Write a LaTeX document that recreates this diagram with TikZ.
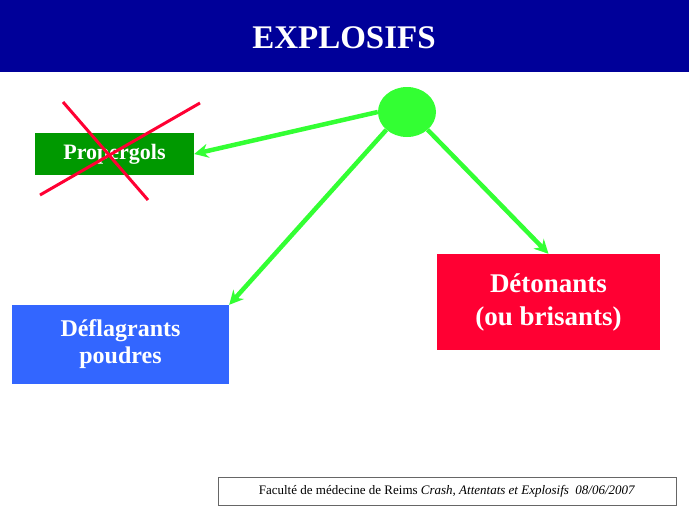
\documentclass[tikz,border=0pt]{standalone}
\usepackage{fontspec}
\setmainfont{Liberation Serif}
\usetikzlibrary{shapes.geometric,arrows.meta}
\definecolor{bandblue}{RGB}{0,0,153}
\definecolor{arrowgreen}{RGB}{51,255,51}
\definecolor{propgreen}{RGB}{0,153,0}
\definecolor{defblue}{RGB}{51,102,255}
\definecolor{detred}{RGB}{255,0,51}
\tikzset{
  kindbox/.style={draw=none, text=white, font=\fontsize{24}{27}\selectfont\bfseries, align=center},
  flow/.style={arrowgreen, line width=4.5pt, -{Stealth[length=14pt,width=14pt]}}
}
\begin{document}
\begin{tikzpicture}[x=1pt,y=-1pt]
\useasboundingbox (0,0) rectangle (689,517);
\fill[bandblue] (0,0) rectangle (689,72);
\node[text=white, font=\fontsize{33}{36}\selectfont\bfseries] (title) at (344,38) {EXPLOSIFS};
\node[ellipse, fill=arrowgreen, minimum width=58pt, minimum height=50pt] (src) at (407,112) {};
\node[kindbox, fill=propgreen, minimum width=159pt, minimum height=42pt, font=\fontsize{22}{25}\selectfont\bfseries] (prop) at (114.5,154) {Propergols};
\node[kindbox, fill=defblue, minimum width=217pt, minimum height=79pt] (defl) at (120.5,344.5) {Déflagrants\\poudres};
\node[kindbox, fill=detred, minimum width=223pt, minimum height=96pt, font=\fontsize{27}{33}\selectfont\bfseries] (deto) at (548.5,302) {Détonants\\(ou brisants)};
\draw[detred, line width=3pt] (63,102) -- (148,200);
\draw[detred, line width=3pt] (40,195) -- (200,103);
\draw[flow] (src.west) -- (prop.east);
\draw[flow] (src.south west) -- (defl.north east);
\draw[flow] (src.south east) -- (deto.north);
\node[draw=black!60, minimum width=458pt, minimum height=28pt, font=\fontsize{13}{15}\selectfont] (foot) at (447,491) {Faculté de médecine de Reims \textit{Crash, Attentats et Explosifs}\ \ \textit{08/06/2007}};
\end{tikzpicture}
\end{document}
